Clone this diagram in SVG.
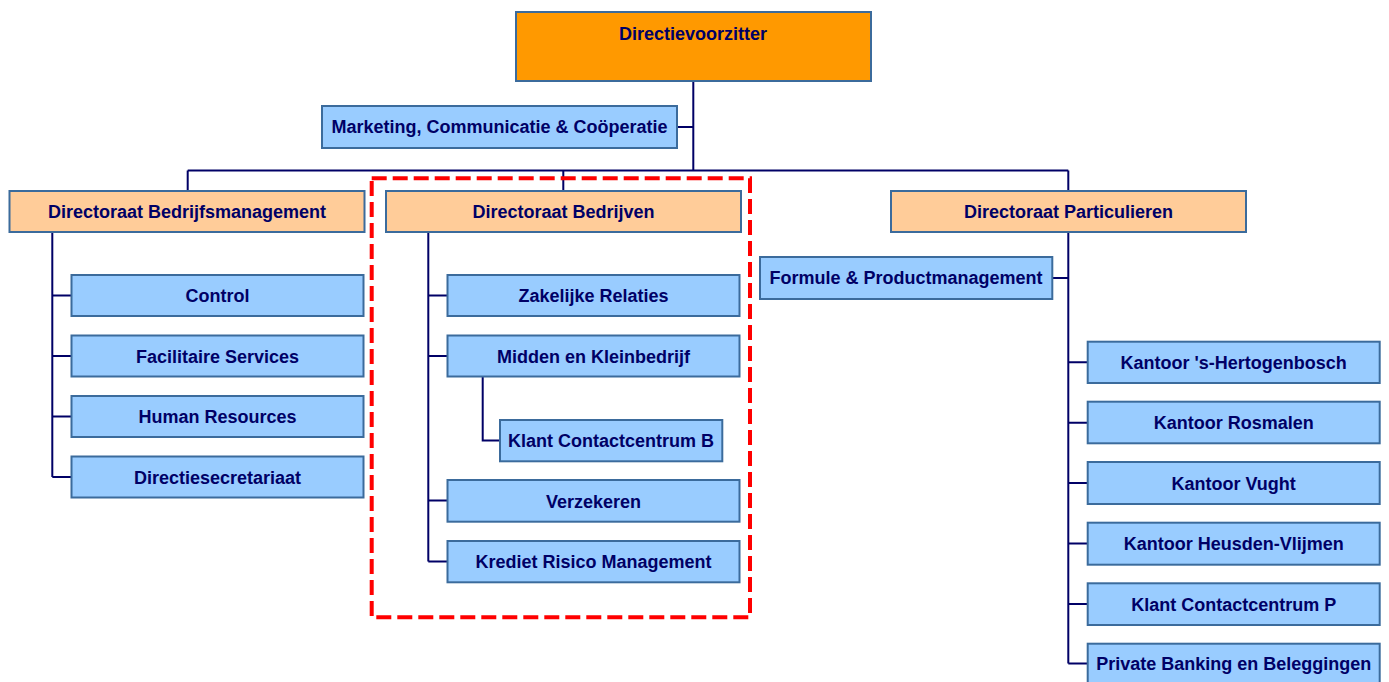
<svg xmlns="http://www.w3.org/2000/svg" width="1389" height="682" viewBox="0 0 1389 682">
  <style>
    .box { stroke: #3B6B9C; stroke-width: 2; }
    .top { fill: #FF9900; }
    .dir { fill: #FFCC99; }
    .unit { fill: #99CCFF; }
    .lbl { font-family: "Liberation Sans", Arial, sans-serif; font-weight: bold; font-size: 18px; fill: #000066; text-anchor: middle; }
    .conn { stroke: #000066; stroke-width: 2; fill: none; }
    .focus { fill: none; stroke: #FF0000; stroke-width: 4; stroke-dasharray: 15 6; }
  </style>
  <rect width="1389" height="682" fill="#FFFFFF"/>

  <!-- connectors -->
  <g id="connectors" class="conn">
    <path d="M693.3 82 V170.5 M678 127 H693.3"/>
    <path d="M187.7 170.5 H1068.3 M187.7 170.5 V190 M563.3 170.5 V190 M1068.3 170.5 V190"/>
    <!-- Bedrijfsmanagement -->
    <path d="M52.3 233 V477 M52.3 295.5 H71 M52.3 356 H71 M52.3 416.5 H71 M52.3 477 H71"/>
    <!-- Bedrijven -->
    <path d="M428.3 233 V561.5 M428.3 295.5 H447 M428.3 356 H447 M428.3 500.5 H447 M428.3 561.5 H447"/>
    <path d="M482.7 377 V440.5 H499"/>
    <!-- Particulieren -->
    <path d="M1068.3 233 V663.5 M1053 278 H1068.3"/>
    <path d="M1068.3 362.3 H1087 M1068.3 422.7 H1087 M1068.3 483.1 H1087 M1068.3 543.5 H1087 M1068.3 603.9 H1087 M1068.3 663.5 H1087"/>
  </g>

  <!-- highlighted directorate -->
  <rect class="focus" x="371.7" y="178.3" width="378.3" height="439"/>

  <g id="n-directievoorzitter">
    <rect class="box top" x="516" y="12" width="355" height="69"/>
    <text class="lbl" x="693" y="40">Directievoorzitter</text>
  </g>
  <g id="n-marketing">
    <rect class="box unit" x="322" y="106" width="355" height="42"/>
    <text class="lbl" x="499.5" y="133">Marketing, Communicatie &amp; Coöperatie</text>
  </g>

  <g id="n-dir-bedrijfsmanagement">
    <rect class="box dir" x="9.5" y="191" width="355" height="41"/>
    <text class="lbl" x="187" y="218">Directoraat Bedrijfsmanagement</text>
  </g>
  <g id="n-dir-bedrijven">
    <rect class="box dir" x="386" y="191" width="355" height="41"/>
    <text class="lbl" x="563.5" y="218">Directoraat Bedrijven</text>
  </g>
  <g id="n-dir-particulieren">
    <rect class="box dir" x="891" y="191" width="355" height="41"/>
    <text class="lbl" x="1068.5" y="218">Directoraat Particulieren</text>
  </g>

  <g id="n-control">
    <rect class="box unit" x="71.5" y="275" width="292" height="41"/>
    <text class="lbl" x="217.5" y="302">Control</text>
  </g>
  <g id="n-facilitaire">
    <rect class="box unit" x="71.5" y="335.5" width="292" height="41"/>
    <text class="lbl" x="217.5" y="362.5">Facilitaire Services</text>
  </g>
  <g id="n-hr">
    <rect class="box unit" x="71.5" y="396" width="292" height="41"/>
    <text class="lbl" x="217.5" y="423">Human Resources</text>
  </g>
  <g id="n-secretariaat">
    <rect class="box unit" x="71.5" y="456.5" width="292" height="41"/>
    <text class="lbl" x="217.5" y="483.5">Directiesecretariaat</text>
  </g>

  <g id="n-zakelijke">
    <rect class="box unit" x="447.5" y="275" width="292" height="41"/>
    <text class="lbl" x="593.5" y="302">Zakelijke Relaties</text>
  </g>
  <g id="n-mkb">
    <rect class="box unit" x="447.5" y="335.5" width="292" height="41"/>
    <text class="lbl" x="593.5" y="362.5">Midden en Kleinbedrijf</text>
  </g>
  <g id="n-kcc-b">
    <rect class="box unit" x="500" y="420" width="222.3" height="41.3"/>
    <text class="lbl" x="611" y="447">Klant Contactcentrum B</text>
  </g>
  <g id="n-verzekeren">
    <rect class="box unit" x="447.5" y="480" width="292" height="41.7"/>
    <text class="lbl" x="593.5" y="507.5">Verzekeren</text>
  </g>
  <g id="n-krediet">
    <rect class="box unit" x="447.5" y="541" width="292" height="41.3"/>
    <text class="lbl" x="593.5" y="568">Krediet Risico Management</text>
  </g>

  <g id="n-formule">
    <rect class="box unit" x="760" y="257" width="292.3" height="42"/>
    <text class="lbl" x="906" y="284">Formule &amp; Productmanagement</text>
  </g>

  <g id="n-kantoor-shertogenbosch">
    <rect class="box unit" x="1087.7" y="341.7" width="292" height="41.3"/>
    <text class="lbl" x="1233.7" y="369">Kantoor 's-Hertogenbosch</text>
  </g>
  <g id="n-kantoor-rosmalen">
    <rect class="box unit" x="1087.7" y="401.7" width="292" height="41.6"/>
    <text class="lbl" x="1233.7" y="429">Kantoor Rosmalen</text>
  </g>
  <g id="n-kantoor-vught">
    <rect class="box unit" x="1087.7" y="462" width="292" height="42"/>
    <text class="lbl" x="1233.7" y="489.5">Kantoor Vught</text>
  </g>
  <g id="n-kantoor-heusden">
    <rect class="box unit" x="1087.7" y="522.7" width="292" height="42"/>
    <text class="lbl" x="1233.7" y="550">Kantoor Heusden-Vlijmen</text>
  </g>
  <g id="n-kcc-p">
    <rect class="box unit" x="1087.7" y="583.3" width="292" height="41.7"/>
    <text class="lbl" x="1233.7" y="610.5">Klant Contactcentrum P</text>
  </g>
  <g id="n-private-banking">
    <rect class="box unit" x="1087.7" y="643.7" width="292" height="42"/>
    <text class="lbl" x="1233.7" y="670">Private Banking en Beleggingen</text>
  </g>
</svg>
